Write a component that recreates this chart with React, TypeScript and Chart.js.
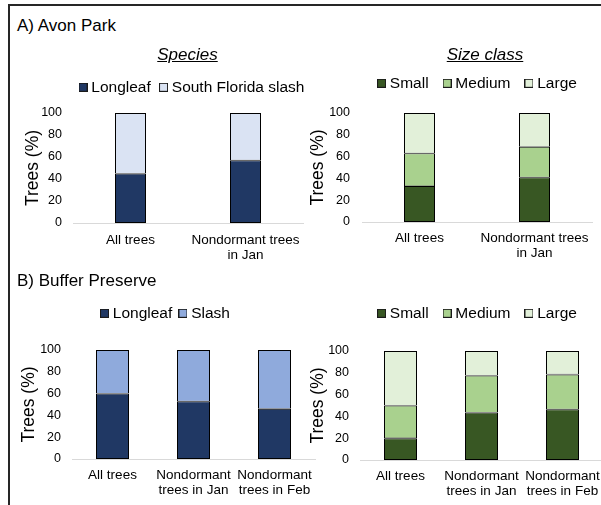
import React, { useEffect, useRef } from 'react';
import { Chart, registerables } from 'chart.js';

Chart.register(...registerables);

// ---------- data ----------
const avonCategories = ['All trees', ['Nondormant trees', 'in Jan']];
const bufferCategories = ['All trees', ['Nondormant', 'trees in Jan'], ['Nondormant', 'trees in Feb']];

const avonLongleaf = [45, 57];
const avonSouthFloridaSlash = [55, 43];

const avonSmall = [33, 41];
const avonMedium = [30, 28];
const avonLarge = [37, 31];

const bufferLongleaf = [60, 53, 46];
const bufferSlash = [40, 47, 54];

const bufferSmall = [20, 43.5, 46.5];
const bufferMedium = [30, 34, 32];
const bufferLarge = [50, 22.5, 21.5];

const yMin = 0;
const yMax = 100;
const yStep = 20;

// ---------- styles ----------
const FONT = "'Liberation Sans', Arial, Helvetica, sans-serif";
const C_LONGLEAF = '#203864';
const C_SFSLASH = '#dae3f3';
const C_SLASH = '#8faadc';
const C_SMALL = '#385723';
const C_MEDIUM = '#a9d18e';
const C_LARGE = '#e2f0d9';

Chart.defaults.font.family = FONT;
Chart.defaults.color = '#000';

function makeSwatch(color: string): HTMLCanvasElement {
  const c = document.createElement('canvas');
  c.width = 9;
  c.height = 9;
  const ctx = c.getContext('2d')!;
  ctx.fillStyle = color;
  ctx.fillRect(0, 0, 9, 9);
  ctx.strokeStyle = '#1a1a1a';
  ctx.lineWidth = 1;
  ctx.strokeRect(0.5, 0.5, 8, 8);
  return c;
}

type Series = { label: string; data: number[]; color: string };
type Box = {
  left: number; top: number; width: number; height: number;
  padTop: number; yW: number; rW: number; xH: number; gTop: number;
  legendPad: number; titlePad: number; yTickPad: number; xTickPad: number; barPct: number;
};

function ChartPanel({ labels, series, box }: { labels: any[]; series: Series[]; box: Box }) {
  const ref = useRef<HTMLCanvasElement>(null);
  useEffect(() => {
    if (!ref.current) return;
    const swatches = series.map((s) => makeSwatch(s.color));
    const chart = new Chart(ref.current, {
      type: 'bar',
      data: {
        labels,
        datasets: series.map((s, i) => ({
          label: s.label,
          data: s.data,
          backgroundColor: s.color,
          borderColor: '#000',
          borderWidth: { top: 1, right: 1, left: 1, bottom: i === 0 ? 1 : 0.6 },
          borderSkipped: false,
          xAxisID: 'x',
          yAxisID: 'y',
          categoryPercentage: 1,
          barPercentage: box.barPct,
        })),
      },
      options: {
        responsive: false,
        animation: false,
        devicePixelRatio: 1,
        layout: { padding: { top: box.padTop, left: 0, right: 0, bottom: 0 } },
        plugins: {
          legend: {
            display: true,
            position: 'top',
            align: 'center',
            labels: {
              usePointStyle: true,
              boxWidth: 1,
              boxHeight: 9,
              padding: box.legendPad,
              color: '#000',
              font: { size: 15.5, family: FONT },
              generateLabels: (ch: any) =>
                ch.data.datasets.map((ds: any, i: number) => ({
                  text: ds.label,
                  fillStyle: ds.backgroundColor,
                  strokeStyle: '#000',
                  lineWidth: 1,
                  pointStyle: swatches[i],
                  hidden: false,
                  datasetIndex: i,
                  fontColor: '#000',
                })),
            },
          },
          tooltip: { enabled: false },
          title: { display: false },
        },
        scales: {
          x: {
            type: 'category',
            position: 'bottom',
            stacked: true,
            grid: { display: false, drawTicks: false },
            border: { display: true, color: '#d9d9d9', width: 1 },
            ticks: {
              color: '#000',
              font: { size: 13.5, lineHeight: '15px', family: FONT },
              padding: box.xTickPad,
              maxRotation: 0,
              minRotation: 0,
              autoSkip: false,
            },
            afterFit: (s: any) => { s.height = box.xH; },
          },
          y: {
            type: 'linear',
            position: 'left',
            stacked: true,
            min: yMin,
            max: yMax,
            grid: { display: false, drawTicks: false },
            border: { display: false },
            ticks: { stepSize: yStep, color: '#000', font: { size: 12.5, family: FONT }, padding: box.yTickPad },
            title: {
              display: true,
              text: 'Trees (%)',
              color: '#000',
              font: { size: 17.5, family: FONT, lineHeight: 1.2 },
              padding: { top: box.titlePad, bottom: 0 },
            },
            afterFit: (s: any) => { s.width = box.yW; },
          },
          xTop: {
            type: 'category',
            position: 'top',
            display: true,
            grid: { display: false, drawTicks: false },
            border: { display: false },
            ticks: { display: false },
            afterFit: (s: any) => { s.height = box.gTop; },
          },
          yRight: {
            type: 'linear',
            position: 'right',
            display: true,
            grid: { display: false, drawTicks: false },
            border: { display: false },
            ticks: { display: false },
            afterFit: (s: any) => { s.width = box.rW; },
          },
        } as any,
      },
    } as any);
    return () => chart.destroy();
  }, []);
  return (
    <canvas
      ref={ref}
      width={box.width}
      height={box.height}
      style={{ position: 'absolute', left: box.left, top: box.top, width: box.width, height: box.height }}
    />
  );
}

// chart area: TL 73-303 x 113-223, TR 362-592 x 113-222, BL 72-315 x 350-459, BR 360-603 x 351-460
const boxTL: Box = { left: 0, top: 60, width: 387, height: 210, padTop: 7.25, yW: 73, rW: 84, xH: 47, gTop: 7.95, legendPad: 12.3, titlePad: 23, yTickPad: 11, xTickPad: 9.5, barPct: 31 / 115 };
const boxTR: Box = { left: 300, top: 50, width: 358, height: 220, padTop: 7.55, yW: 62, rW: 66, xH: 48, gTop: 11.95, legendPad: 18, titlePad: 7.5, yTickPad: 12, xTickPad: 8.8, barPct: 31 / 115 };
const boxBL: Box = { left: 0, top: 290, width: 334, height: 215, padTop: 5.35, yW: 72, rW: 19, xH: 46, gTop: 18.95, legendPad: 10.2, titlePad: 18.7, yTickPad: 11, xTickPad: 8.5, barPct: 33 / 81 };
const boxBR: Box = { left: 300, top: 280, width: 358, height: 225, padTop: 7.55, yW: 60, rW: 55, xH: 45, gTop: 19.95, legendPad: 18, titlePad: 7.5, yTickPad: 11, xTickPad: 9.2, barPct: 33 / 81 };

const textBase: React.CSSProperties = {
  position: 'absolute',
  fontFamily: FONT,
  fontSize: 17,
  lineHeight: '20px',
  color: '#000',
  whiteSpace: 'nowrap',
};

export default function App() {
  return (
    <div style={{ position: 'fixed', left: 0, top: 0, width: 601, height: 505, overflow: 'hidden', background: '#fff' }}>
      <div style={{ position: 'absolute', left: 8, top: 4, width: 700, height: 600, borderTop: '2px solid #262626', borderLeft: '2px solid #262626', boxSizing: 'border-box' }} />
      <ChartPanel
        labels={avonCategories}
        series={[
          { label: 'Longleaf', data: avonLongleaf, color: C_LONGLEAF },
          { label: 'South Florida slash', data: avonSouthFloridaSlash, color: C_SFSLASH },
        ]}
        box={boxTL}
      />
      <ChartPanel
        labels={avonCategories}
        series={[
          { label: 'Small', data: avonSmall, color: C_SMALL },
          { label: 'Medium', data: avonMedium, color: C_MEDIUM },
          { label: 'Large', data: avonLarge, color: C_LARGE },
        ]}
        box={boxTR}
      />
      <ChartPanel
        labels={bufferCategories}
        series={[
          { label: 'Longleaf', data: bufferLongleaf, color: C_LONGLEAF },
          { label: 'Slash', data: bufferSlash, color: C_SLASH },
        ]}
        box={boxBL}
      />
      <ChartPanel
        labels={bufferCategories}
        series={[
          { label: 'Small', data: bufferSmall, color: C_SMALL },
          { label: 'Medium', data: bufferMedium, color: C_MEDIUM },
          { label: 'Large', data: bufferLarge, color: C_LARGE },
        ]}
        box={boxBR}
      />
      <div style={{ ...textBase, left: 17, top: 16 }}>A) Avon Park</div>
      <div style={{ ...textBase, left: 87.5, width: 200, top: 44.6, textAlign: 'center', fontStyle: 'italic' }}>
        <span style={{ textDecoration: 'underline' }}>Species</span>
      </div>
      <div style={{ ...textBase, left: 385, width: 200, top: 44.6, textAlign: 'center', fontStyle: 'italic' }}>
        <span style={{ textDecoration: 'underline' }}>Size class</span>
      </div>
      <div style={{ ...textBase, left: 17, top: 271 }}>B) Buffer Preserve</div>
    </div>
  );
}
